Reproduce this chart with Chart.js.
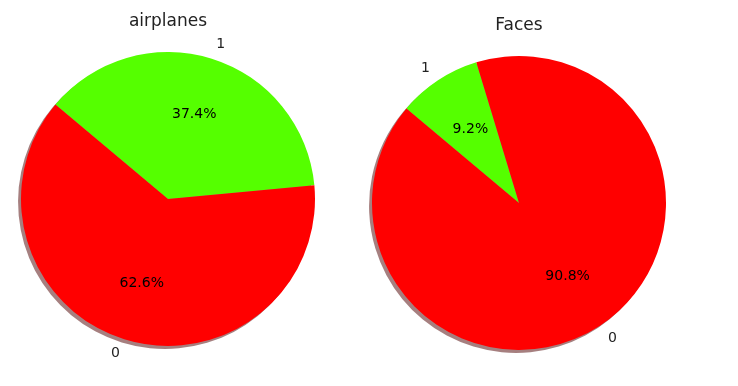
<!DOCTYPE html>
<html>
<head>
<meta charset="utf-8">
<script src="https://cdn.jsdelivr.net/npm/chart.js@4"></script>
<style>
  html, body { margin: 0; padding: 0; background: #fff; }
  #wrap { position: relative; width: 738px; height: 386px; overflow: hidden; }
  .box { position: absolute; top: 0; width: 369px; height: 386px; }
  #b1 { left: 0; }
  #b2 { left: 369px; }
</style>
</head>
<body>
<div id="wrap">
  <div class="box" id="b1"><canvas id="c1" width="369" height="386"></canvas></div>
  <div class="box" id="b2"><canvas id="c2" width="369" height="386"></canvas></div>
</div>
<script>
// Data (Chart.js draws clockwise, so category "1" is listed first to match the original counter-clockwise order)
const categories = ["1", "0"];
const titles = ["airplanes", "Faces"];
const airplanesValues = [37.4, 62.6];
const facesValues = [9.2, 90.8];
const sliceColors = ["#55ff00", "#ff0000"];

const FONT = "'DejaVu Sans', 'Liberation Sans', sans-serif";

function shade(hex) {
  // matplotlib shadow: 0.3 * facecolor, alpha 0.5
  const r = parseInt(hex.slice(1, 3), 16), g = parseInt(hex.slice(3, 5), 16), b = parseInt(hex.slice(5, 7), 16);
  return `rgba(${Math.round(r * 0.3)},${Math.round(g * 0.3)},${Math.round(b * 0.3)},0.5)`;
}

const piePlugin = {
  id: 'mplPie',
  beforeDatasetsDraw(chart) {
    const ctx = chart.ctx;
    const meta = chart.getDatasetMeta(0);
    const cols = chart.data.datasets[0].backgroundColor;
    ctx.save();
    meta.data.forEach((arc, i) => {
      const p = arc.getProps(['x', 'y', 'startAngle', 'endAngle', 'outerRadius'], true);
      const off = p.outerRadius * 0.02;
      ctx.beginPath();
      ctx.moveTo(p.x - off, p.y + off);
      ctx.arc(p.x - off, p.y + off, p.outerRadius, p.startAngle, p.endAngle);
      ctx.closePath();
      ctx.fillStyle = shade(cols[i]);
      ctx.fill();
    });
    ctx.restore();
  },
  afterDatasetsDraw(chart, args, opts) {
    const ctx = chart.ctx;
    const meta = chart.getDatasetMeta(0);
    const data = chart.data.datasets[0].data;
    const total = data.reduce((a, b) => a + b, 0);
    ctx.save();
    let cx = 0, cy = 0, R = 0;
    meta.data.forEach((arc, i) => {
      const p = arc.getProps(['x', 'y', 'startAngle', 'endAngle', 'outerRadius'], true);
      cx = p.x; cy = p.y; R = p.outerRadius;
      const mid = (p.startAngle + p.endAngle) / 2;
      // percentage label at 0.6 R
      ctx.fillStyle = '#000';
      ctx.font = `14px ${FONT}`;
      ctx.textAlign = 'center';
      ctx.textBaseline = 'middle';
      const pct = (data[i] / total * 100).toFixed(1) + '%';
      ctx.fillText(pct, p.x + Math.cos(mid) * R * 0.6, p.y + Math.sin(mid) * R * 0.6);
      // category label at 1.1 R
      const lx = p.x + Math.cos(mid) * R * 1.1;
      const ly = p.y + Math.sin(mid) * R * 1.1;
      ctx.fillStyle = '#222';
      ctx.textAlign = Math.cos(mid) > 0 ? 'left' : 'right';
      ctx.fillText(chart.data.labels[i], lx, ly);
    });
    // title
    ctx.fillStyle = '#222';
    ctx.font = `17px ${FONT}`;
    ctx.textAlign = 'center';
    ctx.textBaseline = 'middle';
    ctx.fillText(opts.title, cx, cy - R - 30);
    ctx.restore();
  }
};

function makePie(id, values, title, padding) {
  return new Chart(document.getElementById(id), {
    type: 'pie',
    data: {
      labels: categories,
      datasets: [{
        data: values,
        backgroundColor: sliceColors,
        borderWidth: 0,
        hoverOffset: 0,
        offset: 0
      }]
    },
    options: {
      responsive: false,
      animation: false,
      rotation: -50,
      layout: { padding: padding },
      events: [],
      plugins: {
        legend: { display: false },
        tooltip: { enabled: false },
        title: { display: false },
        mplPie: { title: title }
      }
    },
    plugins: [piePlugin]
  });
}

makePie('c1', airplanesValues, titles[0], { left: 21, top: 52, right: 54, bottom: 40 });
makePie('c2', facesValues, titles[1], { left: 3, top: 56, right: 72, bottom: 36 });
</script>
</body>
</html>
